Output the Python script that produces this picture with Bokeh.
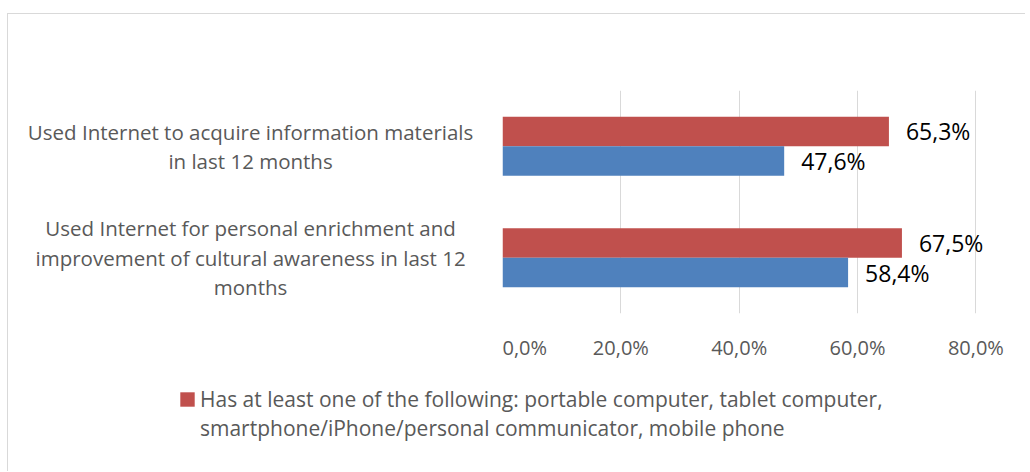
from bokeh.plotting import figure
from bokeh.layouts import row, column
from bokeh.models import ColumnDataSource, FixedTicker, FactorRange, Range1d, Legend, LegendItem
from bokeh.transform import dodge
from bokeh.embed import file_html
from bokeh.resources import INLINE
from bokeh.core.properties import value

# ---- data ----
categories = [
    "Used Internet to acquire information materials\nin last 12 months",
    "Used Internet for personal enrichment and\nimprovement of cultural awareness in last 12\nmonths",
]
series_label_lines = [
    "Has at least one of the following: portable computer, tablet computer,",
    "smartphone/iPhone/personal communicator, mobile phone",
]
has_device = [65.3, 67.5]
other_series = [47.6, 58.4]
tick_values = [0, 20, 40, 60, 80]
tick_labels = ["0,0%", "20,0%", "40,0%", "60,0%", "80,0%"]

RED = "#C0504D"
BLUE = "#4F81BD"
GRAY = "#595959"
GRID = "#d9d9d9"
FONT = "Open Sans"

def fmt(v):
    return f"{v:.1f}".replace(".", ",") + "%"

src = ColumnDataSource(dict(
    cat=categories,
    red=has_device,
    blue=other_series,
    red_lbl=[fmt(v) for v in has_device],
    blue_lbl=[fmt(v) for v in other_series],
))

y_range = FactorRange(factors=list(reversed(categories)))

TOP = 76
BOTTOM = 62
FRAME_H = 223
LAB_W = 494

# ---- category label panel (left) ----
lab = figure(
    y_range=y_range, x_range=Range1d(0, 1),
    frame_width=LAB_W, frame_height=FRAME_H,
    min_border_left=0, min_border_right=0, min_border_top=TOP, min_border_bottom=BOTTOM,
    x_axis_location=None, y_axis_location=None,
    output_backend="svg", toolbar_location=None,
)
lab.outline_line_color = None
lab.grid.visible = False
lab.text(x=0.49, y="cat", text="cat", source=src, text_align="center", text_baseline="middle",
         text_font=value(FONT), text_font_size="20.5px", text_color=GRAY, text_line_height=1.05)

# ---- main chart ----
p = figure(
    y_range=y_range,
    x_range=Range1d(0, 85),
    frame_width=503, frame_height=FRAME_H,
    min_border_left=0, min_border_top=TOP, min_border_right=20, min_border_bottom=BOTTOM,
    y_axis_location=None,
    output_backend="svg", toolbar_location=None,
)
p.outline_line_color = None

off = 0.1325
h = 0.265
p.hbar(y=dodge("cat", off, range=p.y_range), left=0, right="red", height=h,
       source=src, fill_color=RED, line_color=None)
p.hbar(y=dodge("cat", -off, range=p.y_range), left=0, right="blue", height=h,
       source=src, fill_color=BLUE, line_color=None)

p.text(x="red", y=dodge("cat", off, range=p.y_range), text="red_lbl", source=src,
       x_offset=17, text_align="left", text_baseline="middle",
       text_font=value(FONT), text_font_size="23px", text_color="black")
p.text(x="blue", y=dodge("cat", -off, range=p.y_range), text="blue_lbl", source=src,
       x_offset=17, text_align="left", text_baseline="middle",
       text_font=value(FONT), text_font_size="23px", text_color="black")

p.xaxis.ticker = FixedTicker(ticks=tick_values)
p.xaxis.major_label_overrides = {v: l for v, l in zip(tick_values, tick_labels)}
p.xaxis.axis_line_color = None
p.xaxis.major_tick_line_color = None
p.xaxis.minor_tick_line_color = None
p.xaxis.major_label_standoff = 14
p.xaxis.major_label_text_font = FONT
p.xaxis.major_label_text_font_size = "20px"
p.xaxis.major_label_text_color = GRAY

p.ygrid.grid_line_color = None
p.xgrid.grid_line_color = GRID
p.xgrid.ticker = FixedTicker(ticks=tick_values)

# ---- legend panel (below) ----
leg = figure(
    x_range=Range1d(-2, -1), y_range=FactorRange(factors=list(reversed(categories))),
    width=LAB_W + 523, height=96,
    min_border_left=0, min_border_right=0, min_border_top=0, min_border_bottom=0,
    x_axis_location=None, y_axis_location=None,
    output_backend="svg", toolbar_location=None,
)
leg.outline_line_color = None
leg.grid.visible = False
# same red series; its bars fall outside this panel's view, only the legend swatch shows
r_leg = leg.hbar(y="cat", left=0, right="red", height=h, source=src,
                 fill_color=RED, line_color=None)
legend = Legend(items=[LegendItem(label=series_label_lines[0], renderers=[r_leg]),
                       LegendItem(label=series_label_lines[1], renderers=[])],
                location=(170, 29), orientation="vertical",
                glyph_width=18, glyph_height=18, label_standoff=4,
                padding=0, spacing=1, margin=0,
                border_line_color=None, background_fill_alpha=0,
                label_text_font=FONT, label_text_font_size="21px",
                label_text_color=GRAY)
leg.add_layout(legend, "center")

layout = column(row(lab, p, spacing=0), leg, spacing=0)
layout.margin = (13, 0, 0, 7)
layout.styles = {"border-top": "1px solid #d9d9d9", "border-left": "1px solid #d9d9d9"}

open("out.html", "w").write(file_html(layout, INLINE))
